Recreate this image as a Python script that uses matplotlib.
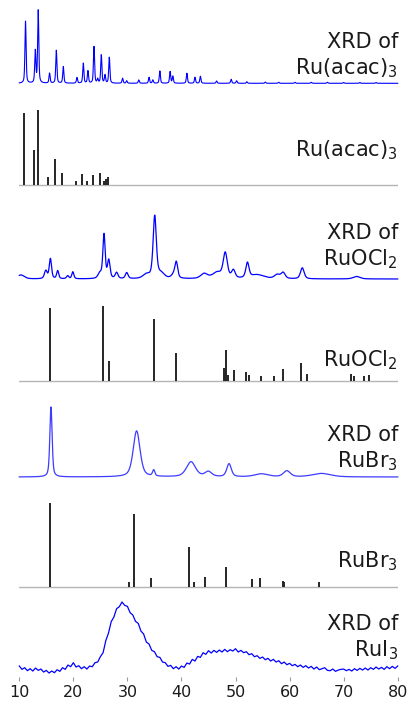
import numpy as np
import matplotlib
matplotlib.use("Agg")
import matplotlib.pyplot as plt

plt.rcParams["font.family"] = ["DejaVu Sans"]
plt.rcParams["mathtext.default"] = "regular"

# ---------------- data ----------------
# Measured XRD of Ru(acac)3: peak position (2θ), height, FWHM
acac_xrd_pos = [11.15, 12.96, 13.5, 15.6, 16.85, 18.14, 20.67, 21.84, 22.7, 23.82,
                24.5, 25.17, 25.85, 26.65, 29.1, 29.87, 32.1, 34.0, 34.7, 36.0,
                37.9, 38.4, 41.0, 42.5, 43.5, 46.5, 49.2, 50.2, 52.1, 55.5,
                58.0, 61.0, 64.0, 67.0, 70.0, 73.0, 76.0]
acac_xrd_height = [62.3, 32, 72.6, 10, 33, 16.6, 5.7, 20, 12.3, 36.6,
                   4, 28.3, 8, 26, 5, 2.5, 3.3, 6, 3.3, 12.3,
                   11.7, 7, 10, 6, 7, 2.3, 4, 2.5, 1.5, 1.2,
                   1.0, 1.0, 1.0, 1.0, 0.8, 0.8, 0.8]
acac_xrd_fwhm = [0.25] * len(acac_xrd_pos)

# Reference pattern of Ru(acac)3
acac_ref_pos = [10.87, 12.66, 13.4, 15.37, 16.66, 17.9, 20.49, 21.6, 22.5, 23.63,
                24.93, 25.6, 25.98, 26.35]
acac_ref_int = [71.7, 35, 74.7, 8, 25.3, 11.7, 4, 10.7, 3.7, 9.7,
                11.7, 4, 6, 7.3]

# Measured XRD of RuOCl2
ruocl2_xrd_background = 6
ruocl2_xrd_pos = [10.3, 14.9, 15.75, 17.1, 18.95, 19.9, 24.9, 25.67, 26.55, 28.0,
                  29.87, 33.5, 35.05, 36.2, 38.6, 39.05, 44.2, 46.6, 48.1, 49.6,
                  52.2, 54.0, 57.7, 58.8, 62.35, 72.4]
ruocl2_xrd_height = [4, 8, 20, 8, 3, 7, 5, 44, 18, 6,
                     6, 4, 62, 5, 4, 15, 5, 6, 25, 8,
                     15, 4, 4, 6, 11, 2.5]
ruocl2_xrd_fwhm = [1.5, 0.6, 0.5, 0.45, 0.5, 0.45, 0.8, 0.5, 0.55, 0.6,
                   0.6, 1.5, 0.7, 1.5, 1.0, 0.6, 1.5, 2.0, 0.9, 0.8,
                   0.7, 3.0, 1.2, 0.9, 0.8, 1.5]

# Reference pattern of RuOCl2
ruocl2_ref_pos = [15.74, 25.54, 26.53, 34.92, 38.93, 47.87, 48.1, 48.3, 48.55, 49.66,
                  51.94, 52.43, 54.65, 57.12, 58.78, 62.17, 63.16, 71.4, 71.86, 73.82,
                  74.63]
ruocl2_ref_int = [73.3, 75, 20.3, 61.7, 27.7, 12.7, 9, 30.7, 6, 10.7,
                  9, 5.7, 5, 4.7, 12.3, 18.3, 7, 7, 5, 4.7,
                  5.7]

# Measured XRD of RuBr3
rubr3_xrd_background = 3
rubr3_xrd_pos = [15.86, 31.7, 34.86, 41.76, 44.96, 48.8, 54.8, 59.5, 65.9]
rubr3_xrd_height = [70, 46, 6, 15, 5, 13, 3, 6, 3.5]
rubr3_xrd_fwhm = [0.5, 1.5, 0.5, 2.0, 1.5, 1.0, 3.0, 1.5, 4.0]

# Reference pattern of RuBr3
rubr3_ref_pos = [15.68, 30.35, 31.27, 34.3, 41.34, 42.26, 44.35, 48.3, 52.99, 54.58,
                 58.72, 58.9, 65.44]
rubr3_ref_int = [83.7, 4.7, 72.7, 8.7, 40.3, 4.7, 10, 19.7, 7.7, 9.3,
                 5.7, 4.7, 5]

# Measured XRD of RuI3, counts every 0.5° from 10°
rui3_start = 10.0
rui3_step = 0.5
rui3_counts = [
    32, 22, 27, 18, 24, 17, 26, 19, 23, 14,
    19, 11, 17, 12, 21, 16, 27, 22, 35, 30,
    42, 29, 33, 24, 30, 23, 32, 30, 42, 44,
    60, 72, 108, 131, 165, 179, 204, 210, 224, 214,
    211, 192, 185, 166, 160, 137, 128, 104, 98, 79,
    75, 60, 58, 44, 42, 31, 34, 24, 30, 23,
    32, 28, 41, 38, 52, 47, 61, 58, 72, 67,
    78, 71, 79, 73, 80, 74, 82, 75, 81, 77,
    84, 74, 79, 72, 75, 66, 69, 60, 63, 55,
    59, 51, 55, 47, 52, 44, 48, 39, 44, 36,
    40, 33, 37, 30, 35, 28, 33, 26, 31, 23,
    29, 21, 24, 27, 19, 18, 23, 16, 20, 22,
    23, 18, 22, 17, 24, 19, 25, 20, 26, 20,
    27, 22, 29, 23, 28, 22, 30, 24, 31, 25,
    32,
]

x_ticks = [10, 20, 30, 40, 50, 60, 70, 80]
panel_labels = ["XRD of\nRu(acac)$_3$", "Ru(acac)$_3$", "XRD of\nRuOCl$_2$",
                "RuOCl$_2$", "XRD of\nRuBr$_3$", "RuBr$_3$", "XRD of\nRuI$_3$"]


# ---------------- helpers ----------------
def pseudo_voigt(x, pos, height, fwhm, eta=0.5):
    d2 = 4.0 * (x - pos) ** 2 / fwhm ** 2
    return height * (eta / (1.0 + d2) + (1 - eta) * np.exp(-np.log(2) * d2))


def pattern(x, positions, heights, widths, background=0.0):
    y = np.full_like(x, float(background))
    for p, h, w in zip(positions, heights, widths):
        y += pseudo_voigt(x, p, h, w)
    return y


W, H = 409, 702
fig = plt.figure(figsize=(W / 100, H / 100), dpi=100)
x_left, x_right = 19.3, 397.7


def panel(top, bottom, base, scale=1.0):
    ax = fig.add_axes([x_left / W, 1 - bottom / H, (x_right - x_left) / W, (bottom - top) / H])
    ax.set_xlim(10, 80)
    ax.set_ylim((base - bottom) * scale, (base - top) * scale)
    for s in ax.spines.values():
        s.set_visible(False)
    ax.set_xticks([])
    ax.set_yticks([])
    ax.patch.set_alpha(0)
    return ax


def sticks(ax, pos, inten):
    ax.axhline(0, color="#b5b5b5", lw=1.0, zorder=1)
    ax.vlines(pos, 0, inten, color="#262626", lw=1.4, zorder=2)


two_theta = np.linspace(10, 80, 3501)
blue = "#0000ff"

# 1: XRD of Ru(acac)3
ax1 = panel(2, 95, 83.3)
ax1.plot(two_theta, pattern(two_theta, acac_xrd_pos, acac_xrd_height, acac_xrd_fwhm),
         color=blue, lw=0.8, clip_on=False)

# 2: Ru(acac)3 reference
ax2 = panel(95, 192, 184.5)
sticks(ax2, acac_ref_pos, acac_ref_int)

# 3: XRD of RuOCl2
ax3 = panel(192, 290, 285)
ax3.plot(two_theta, pattern(two_theta, ruocl2_xrd_pos, ruocl2_xrd_height, ruocl2_xrd_fwhm,
                            ruocl2_xrd_background),
         color=blue, lw=0.9, clip_on=False)

# 4: RuOCl2 reference
ax4 = panel(290, 390, 381)
sticks(ax4, ruocl2_ref_pos, ruocl2_ref_int)

# 5: XRD of RuBr3
ax5 = panel(390, 490, 480)
ax5.plot(two_theta, pattern(two_theta, rubr3_xrd_pos, rubr3_xrd_height, rubr3_xrd_fwhm,
                            rubr3_xrd_background),
         color="#3c3cff", lw=0.9, clip_on=False)

# 6: RuBr3 reference
ax6 = panel(490, 592, 587)
sticks(ax6, rubr3_ref_pos, rubr3_ref_int)

# 7: XRD of RuI3 with the 2θ axis
ax7 = panel(592, 677, 676.7, scale=3.0)
rui3_2theta = rui3_start + rui3_step * np.arange(len(rui3_counts))
ax7.plot(rui3_2theta, rui3_counts, color=blue, lw=0.9, clip_on=False)
ax7.set_xticks(x_ticks)
ax7.set_xticklabels([str(t) for t in x_ticks])
ax7.tick_params(axis="x", direction="out", length=3, width=0.8, color="#9a9a9a",
                labelsize=11.5, labelcolor="#1a1a1a", pad=2.5)

# Panel names at the right edge (baselines in pixels)
label_baselines = [(48, 74.5), (156,), (239, 265.5), (366,), (441, 467), (567,), (629.5, 656.5)]
for text, lines in zip(panel_labels, label_baselines):
    for line_text, yb in zip(text.split("\n"), lines):
        fig.text(398 / W, 1 - yb / H, line_text, ha="right", va="baseline",
                 fontsize=15, color="#1a1a1a")

fig.savefig("out.png", dpi=100)
